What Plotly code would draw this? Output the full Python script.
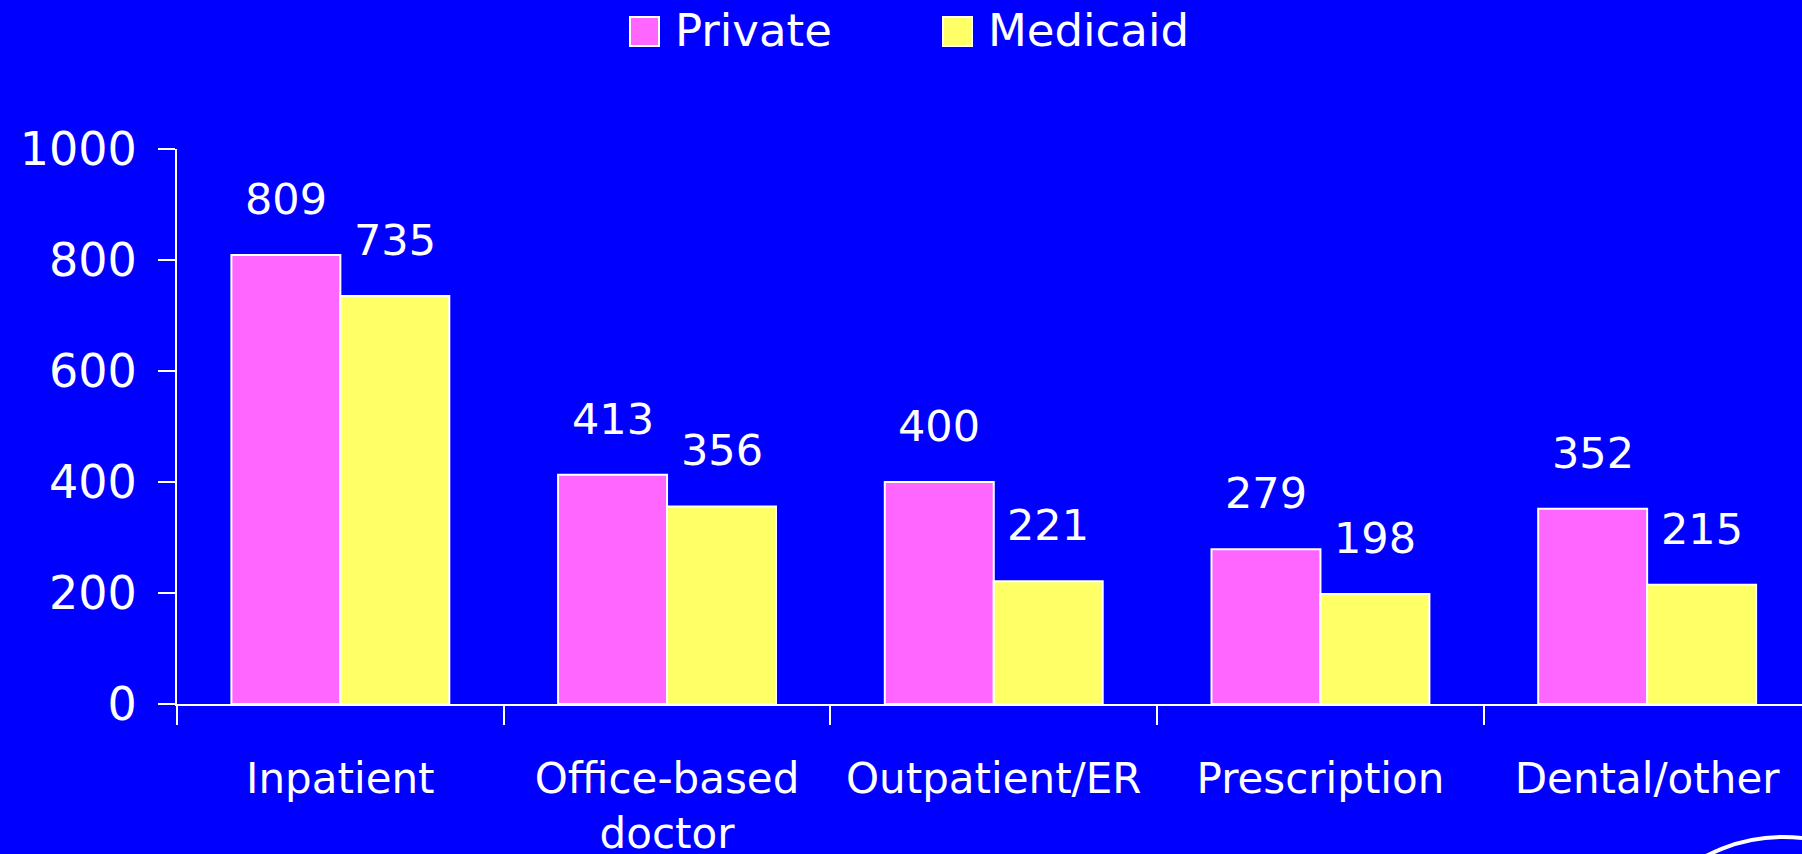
import plotly.graph_objects as go

categories = ["Inpatient", "Office-based<br>doctor", "Outpatient/ER", "Prescription", "Dental/other"]
private = [809, 413, 400, 279, 352]
medicaid = [735, 356, 221, 198, 215]
series_names = ["Private", "Medicaid"]
y_ticks = [0, 200, 400, 600, 800, 1000]

W, H = 1802, 854
L, R, T, B = 177, 0, 149, 150
BG = "#0000FF"
PINK = "#FF66FF"
YELLOW = "#FFFF66"
FONT = "DejaVu Sans"


def px(x):
    return (x - L) / (W - L - R)


def py(y):
    return (H - B - y) / (H - T - B)


fig = go.Figure()
for name, vals, col in [(series_names[0], private, PINK), (series_names[1], medicaid, YELLOW)]:
    fig.add_trace(go.Bar(
        x=categories, y=vals, name=name,
        marker=dict(color=col, line=dict(color="white", width=2)),
        showlegend=False,
    ))

# value labels above the bars
annotations = []
for vals, shift in [(private, -54.5), (medicaid, 54.5)]:
    for c, v in zip(categories, vals):
        annotations.append(dict(
            x=c, y=v, xref="x", yref="y", text=str(v), showarrow=False,
            xshift=shift, yshift=56, yanchor="middle",
            font=dict(family=FONT, size=43, color="white"),
        ))

# hand-made legend with large swatches
shapes = []
for name, col, sx in [(series_names[0], PINK, 630), (series_names[1], YELLOW, 943)]:
    shapes.append(dict(
        type="rect", xref="paper", yref="paper",
        x0=px(sx), x1=px(sx + 29), y0=py(46), y1=py(17),
        fillcolor=col, line=dict(color="white", width=2),
    ))
    annotations.append(dict(
        x=px(sx + 43), y=py(31), xref="paper", yref="paper", text=name,
        showarrow=False, xanchor="left", yanchor="middle",
        font=dict(family=FONT, size=45, color="white"),
    ))

# partial logo ring in the corner
shapes.append(dict(
    type="circle", xref="paper", yref="paper",
    x0=px(1783 - 165), x1=px(1783 + 165), y0=py(837 + 330), y1=py(837),
    line=dict(color="white", width=4),
))

fig.update_layout(
    template="none",
    width=W, height=H,
    margin=dict(l=L, r=R, t=T, b=B),
    paper_bgcolor=BG, plot_bgcolor=BG,
    barmode="group", bargap=0.333, bargroupgap=0,
    showlegend=False,
    annotations=annotations,
    shapes=shapes,
)
fig.update_yaxes(
    range=[0, 1000], tickvals=y_ticks, showgrid=False, zeroline=False,
    showline=True, linecolor="white", linewidth=2,
    ticks="outside", ticklen=17, tickwidth=2, tickcolor="white",
    ticklabelstandoff=12, automargin=False,
    tickfont=dict(family=FONT, size=46, color="white"),
)
fig.update_xaxes(
    range=[-0.5, 4.474], showgrid=False, zeroline=False,
    showline=True, linecolor="white", linewidth=2,
    ticks="outside", tickson="boundaries", ticklen=19, tickwidth=2, tickcolor="white",
    ticklabelstandoff=37, automargin=False,
    tickfont=dict(family=FONT, size=42, color="white"),
)

fig.write_html(
    "out.html",
    config={"displayModeBar": False},
    post_script="document.body.style.margin='0';document.body.style.overflow='hidden';",
)
